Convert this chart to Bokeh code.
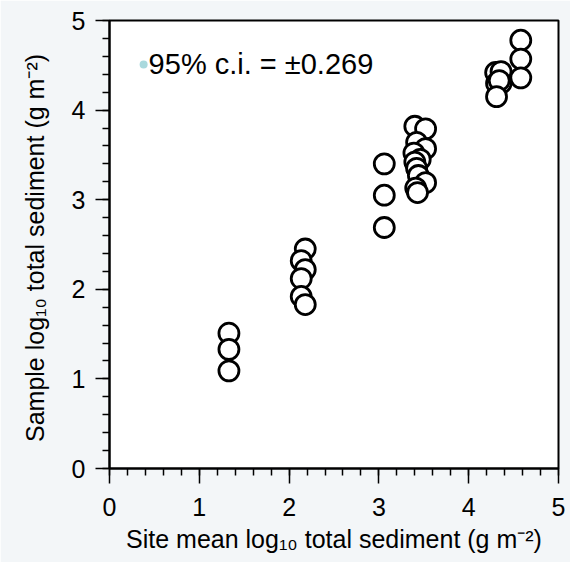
import numpy as np
from bokeh.plotting import figure
from bokeh.models import Range1d, Label, FixedTicker, ColumnDataSource
from bokeh.embed import file_html
from bokeh.resources import INLINE

# ---------------- data ----------------
site_mean = [1.33, 1.33, 1.33,
             2.18, 2.135, 2.18, 2.135, 2.135, 2.18,
             3.06, 3.06, 3.06,
             3.40, 3.52, 3.42, 3.52, 3.39, 3.46, 3.40, 3.42, 3.44, 3.52, 3.41, 3.43,
             4.58, 4.58, 4.58, 4.30, 4.36, 4.31, 4.36, 4.34, 4.31]
sample = [1.51, 1.33, 1.09,
          2.45, 2.32, 2.22, 2.12, 1.92, 1.83,
          3.40, 3.05, 2.69,
          3.82, 3.79, 3.64, 3.57, 3.52, 3.45, 3.42, 3.35, 3.27, 3.19, 3.13, 3.08,
          4.78, 4.57, 4.36, 4.42, 4.43, 4.30, 4.30, 4.33, 4.15]
major_ticks = [0, 1, 2, 3, 4, 5]
tick_labels = ["0", "1", "2", "3", "4", "5"]
x_title = "Site mean log\u2081\u2080 total sediment (g m\u207b\u00b2)"
y_title = "Sample  log\u2081\u2080 total sediment (g m\u207b\u00b2)"
ci_text = "95% c.i. = \u00b10.269"
ci_x = [0.38]
ci_y = [4.51]

FONT = "Liberation Sans"

p = figure(width=570, height=562, output_backend="svg", toolbar_location=None,
           x_range=Range1d(0, 5), y_range=Range1d(0, 5),
           min_border_left=109, min_border_right=12, min_border_top=20, min_border_bottom=94)
p.background_fill_color = "white"
p.border_fill_color = "#f3f6f8"
p.outline_line_color = "black"
p.outline_line_width = 2
p.grid.visible = False

for ax in (p.xaxis[0], p.yaxis[0]):
    ax.ticker = FixedTicker(ticks=major_ticks, minor_ticks=list(np.round(np.arange(0, 5.01, 0.2), 2)))
    ax.major_label_overrides = {t: l for t, l in zip(major_ticks, tick_labels)}
    ax.axis_line_width = 2
    ax.axis_line_color = "black"
    ax.major_tick_line_width = 1.5
    ax.minor_tick_line_width = 1.5
    ax.major_tick_line_color = "black"
    ax.minor_tick_line_color = "black"
    ax.major_tick_in = 0
    ax.minor_tick_in = 0
    ax.minor_tick_out = 7
    ax.major_label_text_font = FONT
    ax.major_label_text_font_size = "25px"
    ax.major_label_text_color = "black"
    ax.axis_label_text_font = FONT
    ax.axis_label_text_font_size = "25px"
    ax.axis_label_text_font_style = "normal"
    ax.axis_label_text_color = "black"
p.xaxis.axis_label = x_title
p.yaxis.axis_label = y_title
p.xaxis.major_tick_out = 15
p.xaxis.major_label_standoff = 14
p.xaxis.axis_label_standoff = 6
p.yaxis.major_tick_out = 14
p.yaxis.major_label_standoff = 10
p.yaxis.axis_label_standoff = 20

src = ColumnDataSource(dict(x=site_mean, y=sample))
p.scatter("x", "y", source=src, size=20, fill_color="white", line_color="black", line_width=2.8)

# c.i. annotation
p.scatter(ci_x, ci_y, size=8, fill_color="#a9d9dd", line_color=None)
p.add_layout(Label(x=ci_x[0], y=ci_y[0], x_offset=5, text=ci_text, text_font=FONT,
                   text_font_size="29px", text_baseline="middle", text_color="black"))

open("out.html", "w").write(file_html(p, INLINE))
